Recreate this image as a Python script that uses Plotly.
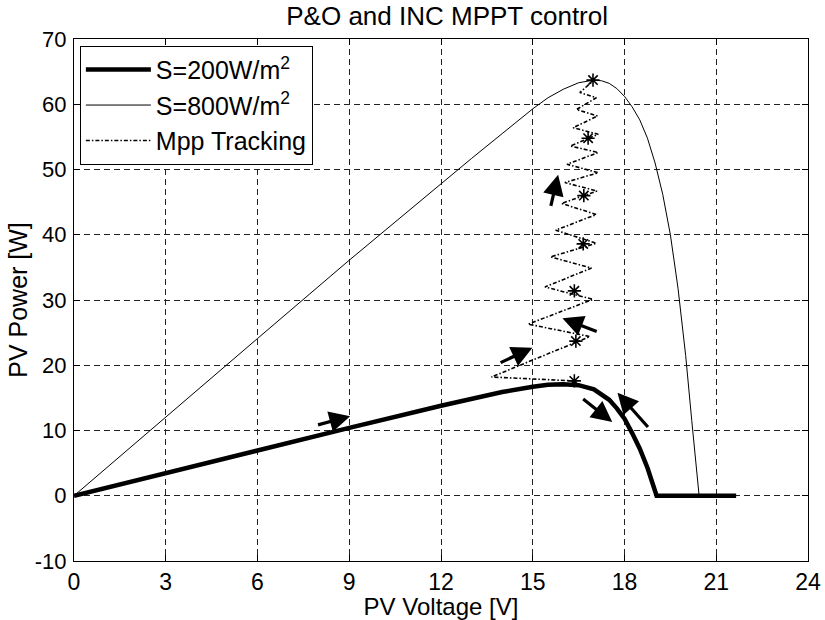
import plotly.graph_objects as go

# ---- data ----
v_200 = [0, 3, 6, 9, 12, 14, 15, 15.5, 16, 16.5, 17, 17.25, 17.5, 17.75, 18, 18.25, 18.5, 18.75, 19.05, 21.65]
p_200 = [0, 3.5, 6.9, 10.4, 13.8, 15.9, 16.7, 17.0, 17.1, 16.95, 16.3, 15.6, 14.7, 13.4, 11.8, 9.6, 7.2, 4.3, 0, 0]

v_800 = [0, 3, 6, 9, 12, 13, 14, 15, 15.5, 16, 16.5, 17, 17.25, 17.5, 17.75, 18, 18.25, 18.5,
         18.75, 19, 19.25, 19.5, 19.75, 20, 20.2, 20.44, 21.65]
p_800 = [0, 12.1, 24.1, 36.1, 47.9, 51.7, 55.5, 59.3, 61.0, 62.3, 63.3, 63.7, 63.6, 63.2, 62.4,
         61.2, 59.6, 57.6, 54.8, 51.0, 46.2, 40.0, 31.8, 21.5, 11.5, 0, 0]

v_track = [16.36, 13.65, 16.87, 14.85, 16.97, 15.40, 16.92, 15.58, 17.08, 15.75, 17.08, 15.94,
           17.10, 16.05, 17.14, 16.12, 17.14, 16.23, 17.14, 16.32, 17.12, 16.43, 17.08, 16.54, 17.00]
p_track = [17.6, 18.2, 24.4, 26.3, 30.1, 32.0, 34.9, 36.6, 38.7, 40.7, 43.1, 44.8,
           46.7, 48.0, 49.5, 50.8, 52.6, 53.6, 55.4, 56.4, 58.2, 59.2, 61.0, 61.8, 63.7]

v_star = [16.36, 16.41, 16.36, 16.65, 16.67, 16.81, 16.97]
p_star = [17.6, 23.7, 31.4, 38.6, 46.0, 54.8, 63.7]

# arrows: (tail V, tail P, head V, head P)
arrow_tail_v = [7.93, 13.9, 17.14, 15.58, 16.6, 18.81]
arrow_tail_p = [10.8, 20.3, 25.1, 44.2, 15.0, 10.3]
arrow_head_v = [9.03, 14.99, 15.97, 15.83, 17.6, 17.77]
arrow_head_p = [12.2, 22.7, 27.2, 49.2, 11.3, 15.8]

x_ticks = [0, 3, 6, 9, 12, 15, 18, 21, 24]
y_ticks = [-10, 0, 10, 20, 30, 40, 50, 60, 70]

FONT = "Liberation Sans, Arial, Helvetica, sans-serif"

fig = go.Figure()
fig.add_trace(go.Scatter(x=v_200, y=p_200, mode="lines", name="S=200W/m<sup>2</sup>",
                         line=dict(color="black", width=4.5)))
fig.add_trace(go.Scatter(x=v_800, y=p_800, mode="lines", name="S=800W/m<sup>2</sup>",
                         line=dict(color="black", width=1)))
fig.add_trace(go.Scatter(x=v_track, y=p_track, mode="lines", name="Mpp Tracking",
                         line=dict(color="black", width=1.6, dash="4px,2px,1.5px,2px")))
fig.add_trace(go.Scatter(x=v_star, y=p_star, mode="markers", showlegend=False,
                         marker=dict(symbol="asterisk-open", size=11, color="black",
                                     line=dict(color="black", width=1.6))))

for tv, tp, hv, hp in zip(arrow_tail_v, arrow_tail_p, arrow_head_v, arrow_head_p):
    fig.add_annotation(x=hv, y=hp, ax=tv, ay=tp, xref="x", yref="y", axref="x", ayref="y",
                       text="", showarrow=True, arrowhead=2, arrowsize=1.3, arrowwidth=3.2,
                       arrowcolor="black", standoff=0, startstandoff=0)

axis_common = dict(showline=True, linecolor="black", linewidth=1, mirror="ticks",
                   ticks="inside", ticklen=6, tickcolor="black", showgrid=True,
                   gridcolor="#222", gridwidth=1, griddash="6px,4px", zeroline=False)

fig.update_xaxes(range=[0, 24], tickvals=x_ticks, ticktext=[str(t) for t in x_ticks],
                 tickfont=dict(family=FONT, size=23, color="black"),
                 title=dict(text="PV Voltage [V]", font=dict(family=FONT, size=24, color="black"),
                            standoff=1),
                 ticklabelstandoff=0, **axis_common)
fig.update_yaxes(range=[-10, 70], tickvals=y_ticks, ticktext=[str(t) for t in y_ticks],
                 tickfont=dict(family=FONT, size=22, color="black"),
                 title=dict(text="PV Power [W]", font=dict(family=FONT, size=25, color="black"),
                            standoff=0),
                 ticklabelstandoff=2, **axis_common)

fig.update_layout(
    width=825, height=620, autosize=False,
    margin=dict(l=74, r=17, t=39, b=59, autoexpand=False),
    paper_bgcolor="white", plot_bgcolor="white",
    font=dict(family=FONT, color="black"),
    title=dict(text="P&O and INC MPPT control", x=0.542, xanchor="center",
               yref="container", y=0.975, yanchor="middle",
               font=dict(family=FONT, size=26, color="black")),
    legend=dict(x=0.008, y=0.987, xanchor="left", yanchor="top",
                bordercolor="black", borderwidth=1, bgcolor="white",
                font=dict(family=FONT, size=25, color="black"),
                itemwidth=65, tracegroupgap=0),
    showlegend=True,
)

fig.write_html("out.html")
